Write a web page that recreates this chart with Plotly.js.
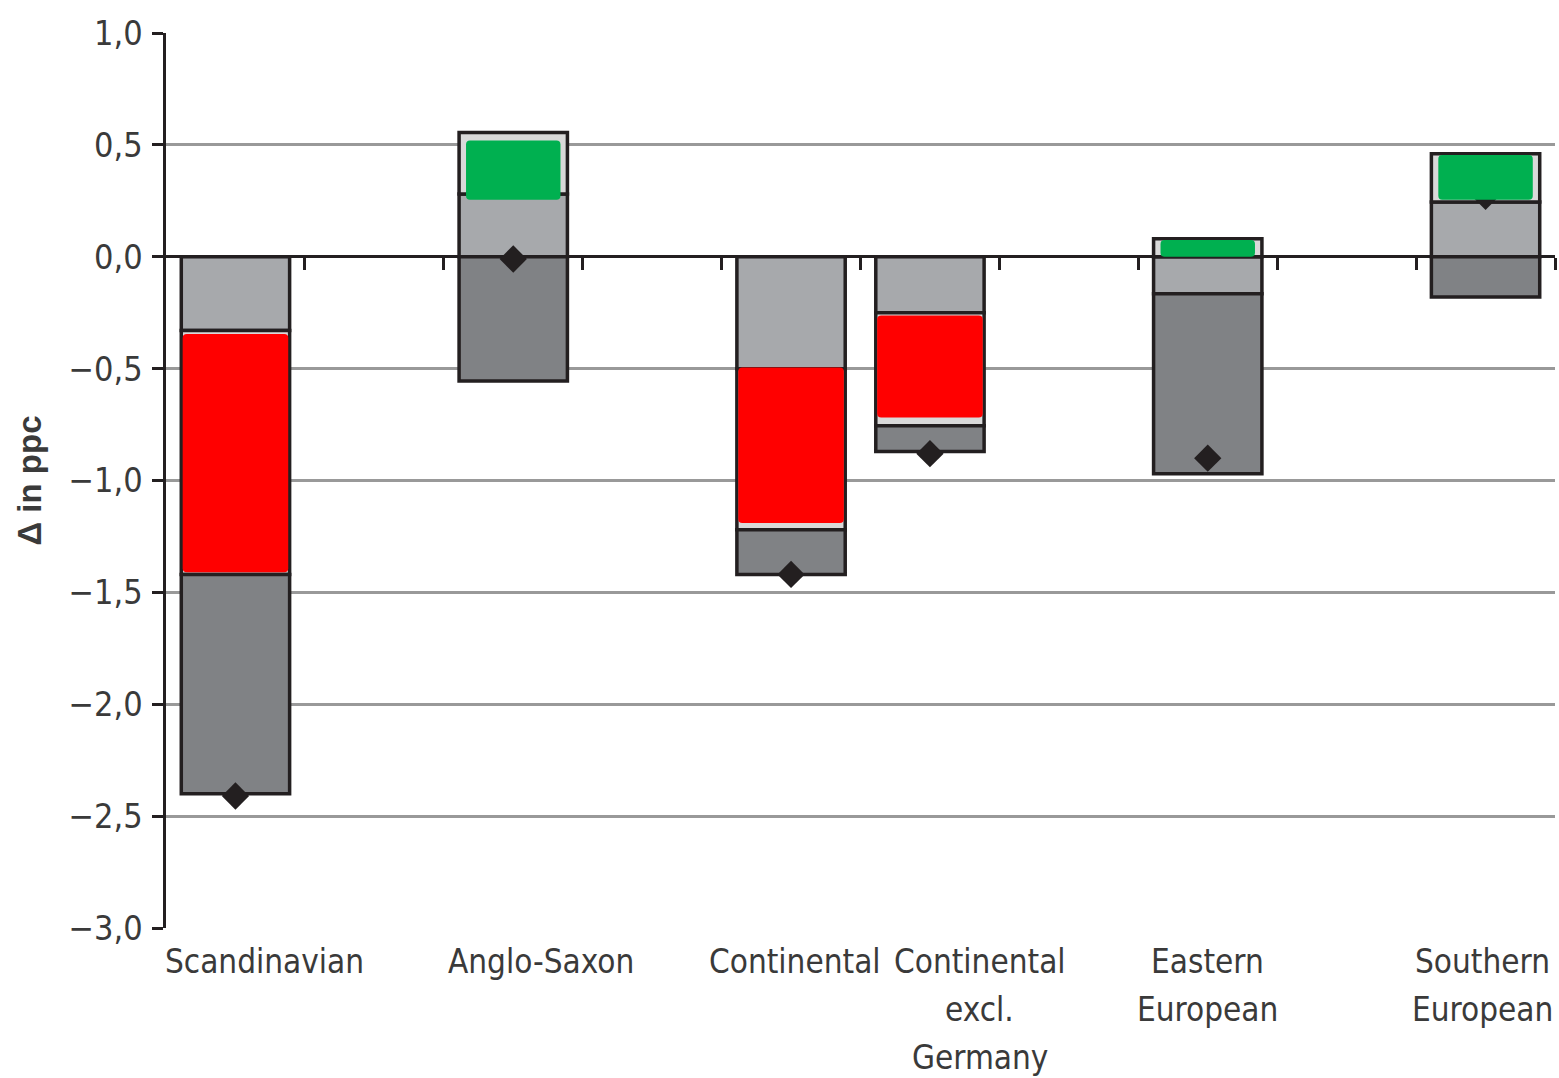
<!DOCTYPE html>
<html>
<head>
<meta charset="utf-8">
<script src="https://cdn.plot.ly/plotly-3.0.1.min.js"></script>
<style>html,body{margin:0;padding:0;background:#fff;}#chart{width:1559px;height:1078px;}</style>
</head>
<body>
<div id="chart"></div>
<script>
// ---- data ----
const categories = ['Scandinavian', 'Anglo-Saxon', 'Continental', 'Continental<br>excl.<br>Germany', 'Eastern<br>European', 'Southern<br>European'];
const lightGrey   = [-0.33, 0.28, -0.50, -0.25, -0.165, 0.245];
const midGrey     = [-1.09, 0.275, -0.72, -0.505, 0.08, 0.215];
const darkGrey    = [-0.98, -0.555, -0.20, -0.115, -0.805, -0.18];
const totalDelta  = [-2.41, -0.01, -1.42, -0.88, -0.90, 0.27];
const highlightBase  = [-0.345, 0.255, -0.495, -0.263, 0.0, 0.255];
const highlightValue = [-1.065, 0.265, -0.695, -0.455, 0.075, 0.20];
const yTickValues = [-3, -2.5, -2, -1.5, -1, -0.5, 0, 0.5, 1];

// ---- layout constants ----
const slots = [0, 2, 4, 5, 7, 9];
const labelShift = [0.21, 0.2, 0.03, 0.36, 0, -0.02];
const boundaryTicks = [0.5, 1.5, 2.5, 3.5, 4.5, 5.5, 6.5, 7.5, 8.5, 9.5];
const outline = {color: '#231f20', width: 3.5};
const barW = 0.78;
const LINE_GAP = 48;
const FONT = '"Liberation Sans Narrow", "DejaVu Sans Condensed", "Liberation Sans", sans-serif';
const TXT = '#3a3a3a';

const traces = [
  {type: 'bar', x: slots, y: lightGrey, width: barW, marker: {color: '#a7a9ac', line: outline}, hoverinfo: 'skip'},
  {type: 'bar', x: slots, y: midGrey, width: barW, marker: {color: '#d9d9d9', line: outline}, hoverinfo: 'skip'},
  {type: 'bar', x: slots, y: darkGrey, width: barW, marker: {color: '#808285', line: outline}, hoverinfo: 'skip'},
  {type: 'scatter', mode: 'markers', x: slots, y: totalDelta,
   marker: {symbol: 'diamond', size: 21, color: '#231f20'}, hoverinfo: 'skip'},
  {type: 'bar', xaxis: 'x2', x: slots, y: highlightValue, base: highlightBase,
   width: highlightValue.map(v => v < 0 ? 0.76 : 0.68),
   marker: {color: highlightValue.map(v => v < 0 ? '#ff0000' : '#00b050'), line: {width: 0}, cornerradius: 4},
   hoverinfo: 'skip'}
];

const annotations = [];
categories.forEach((c, i) => {
  c.split('<br>').forEach((line, k) => {
    annotations.push({
      text: line, x: slots[i] + labelShift[i], xref: 'x', y: 0, yref: 'paper',
      xanchor: 'center', yanchor: 'top', yshift: -12 - LINE_GAP * k, showarrow: false, align: 'center',
      font: {family: FONT, size: 33, color: TXT}
    });
  });
});

const layout = {
  width: 1559, height: 1078,
  margin: {l: 166, r: 4, t: 33, b: 150},
  paper_bgcolor: '#fff', plot_bgcolor: '#fff',
  barmode: 'relative', showlegend: false,
  separators: ', ',
  font: {family: FONT, size: 33, color: TXT},
  xaxis: {range: [-0.5, 9.5], anchor: 'free', position: 0.75, showgrid: false, zeroline: false,
          showline: false, tickmode: 'array', tickvals: boundaryTicks, ticks: 'outside',
          ticklen: 12, tickwidth: 3, tickcolor: '#231f20', showticklabels: false, fixedrange: true},
  xaxis2: {range: [-0.5, 9.5], overlaying: 'x', visible: false, fixedrange: true},
  yaxis: {range: [-3, 1], tickmode: 'array', tickvals: yTickValues, tickformat: '.1f',
          showgrid: true, gridcolor: '#999999', gridwidth: 3,
          zeroline: true, zerolinecolor: '#231f20', zerolinewidth: 3,
          showline: true, linecolor: '#231f20', linewidth: 3.5,
          ticks: 'outside', ticklen: 11, tickwidth: 3, tickcolor: '#231f20',
          ticklabelstandoff: 2,
          tickfont: {family: FONT, size: 34, color: TXT},
          title: {text: '<b>Δ in ppc</b>', standoff: 18, font: {family: '"Liberation Sans", Arial, sans-serif', size: 33, color: TXT}},
          fixedrange: true},
  annotations: annotations
};

Plotly.newPlot('chart', traces, layout, {displayModeBar: false, staticPlot: true});
</script>
</body>
</html>
